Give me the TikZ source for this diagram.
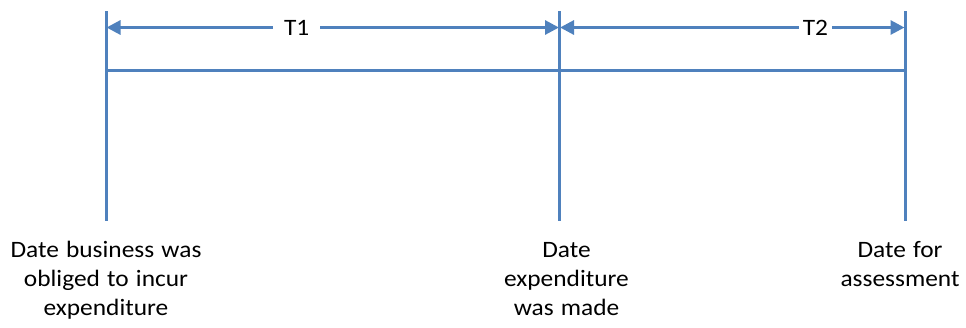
\documentclass[tikz,border=0pt]{standalone}
\usepackage{fontspec}
\setmainfont[FakeStretch=1.08, WordSpace=1.25]{Carlito}
\usetikzlibrary{arrows.meta}
\definecolor{lineblue}{RGB}{79,129,189}
\tikzset{
  rule/.style={draw=lineblue, line width=3pt},
  span/.style={draw=lineblue, line width=3pt,
    {Triangle[length=14pt,width=14pt]}-{Triangle[length=14pt,width=14pt]}, shorten <=-1pt, shorten >=-1pt},
  spanlabel/.style={fill=white, inner xsep=4pt, inner ysep=2pt, text=black,
    font=\fontsize{23.5}{29}\selectfont},
  datelabel/.style={align=center, anchor=base, inner sep=0pt, text=black,
    font=\fontsize{23.5}{29}\selectfont}
}
\begin{document}
\begin{tikzpicture}[x=1pt,y=-1pt]
\useasboundingbox (0,0) rectangle (966,327);
% vertical markers
\coordinate (aTop) at (106,11);  \coordinate (aBot) at (106,221);
\coordinate (bTop) at (559.5,11); \coordinate (bBot) at (559.5,221);
\coordinate (cTop) at (905,11);  \coordinate (cBot) at (905,221);
\draw[rule] (aTop) -- (aBot);
\draw[rule] (bTop) -- (bBot);
\draw[rule] (cTop) -- (cBot);
% time line
\coordinate (aLine) at (106,70.5); \coordinate (cLine) at (905,70.5);
\draw[rule] (aLine) -- (cLine);
% interval arrows
\coordinate (aArr) at (107.5,27.5); \coordinate (bArrL) at (558,27.5);
\coordinate (bArrR) at (561,27.5);  \coordinate (cArr) at (903.5,27.5);
\draw[span] (aArr) -- node[spanlabel, inner xsep=11pt, pos=0.42] (t1) {T1} (bArrL);
\draw[span] (bArrR) -- node[spanlabel, inner xsep=3.5pt, pos=0.743] (t2) {T2} (cArr);
% date labels (anchored at the baseline of the last line)
\node[datelabel] (d1) at (106,315) {Date business was\\obliged to incur\\expenditure};
\node[datelabel] (d2) at (566.5,315) {Date\\expenditure\\was made};
\node[datelabel] (d3) at (900,286.5) {Date for\\assessment};
\end{tikzpicture}
\end{document}
